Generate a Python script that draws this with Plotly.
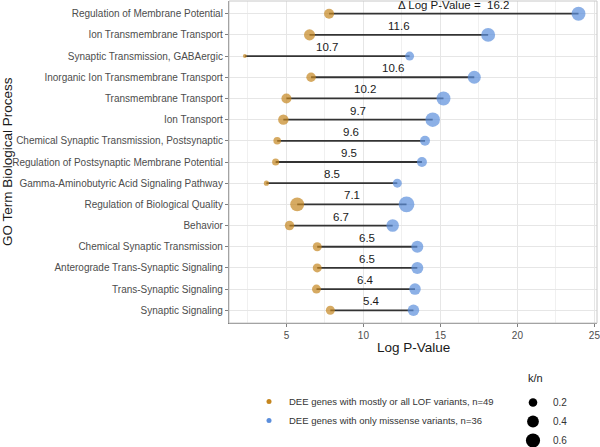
import plotly.graph_objects as go
import numpy as np

terms = [
    "Regulation of Membrane Potential",
    "Ion Transmembrane Transport",
    "Synaptic Transmission, GABAergic",
    "Inorganic Ion Transmembrane Transport",
    "Transmembrane Transport",
    "Ion Transport",
    "Chemical Synaptic Transmission, Postsynaptic",
    "Regulation of Postsynaptic Membrane Potential",
    "Gamma-Aminobutyric Acid Signaling Pathway",
    "Regulation of Biological Quality",
    "Behavior",
    "Chemical Synaptic Transmission",
    "Anterograde Trans-Synaptic Signaling",
    "Trans-Synaptic Signaling",
    "Synaptic Signaling",
]
lof_logp = [7.77, 6.5, 2.3, 6.6, 5.0, 4.8, 4.4, 4.3, 3.7, 5.7, 5.2, 7.0, 7.0, 6.95, 7.85]
mis_logp = [23.97, 18.1, 13.0, 17.2, 15.2, 14.5, 14.0, 13.8, 12.2, 12.8, 11.9, 13.5, 13.5, 13.35, 13.25]
delta = [16.2, 11.6, 10.7, 10.6, 10.2, 9.7, 9.6, 9.5, 8.5, 7.1, 6.7, 6.5, 6.5, 6.4, 5.4]
lof_kn = [0.28, 0.35, 0.03, 0.25, 0.28, 0.31, 0.15, 0.13, 0.06, 0.58, 0.25, 0.22, 0.22, 0.22, 0.22]
mis_kn = [0.58, 0.58, 0.22, 0.50, 0.58, 0.63, 0.28, 0.28, 0.22, 0.75, 0.46, 0.42, 0.42, 0.38, 0.38]
legend_kn = [0.2, 0.4, 0.6]
x_ticks = [5, 10, 15, 20, 25]

LOF_COL = "#C5861F"
MIS_COL = "#5B8EDC"
FONT = "Arial, Liberation Sans, sans-serif"

def size_of(kn):
    return [17 * np.sqrt(k) + 1 for k in kn]

ypos = list(range(len(terms)))

fig = go.Figure()

# segments
sx, sy = [], []
for i in ypos:
    sx += [lof_logp[i], mis_logp[i], None]
    sy += [i, i, None]
fig.add_trace(go.Scatter(x=sx, y=sy, mode="lines", line=dict(color="#333333", width=1.8),
                         showlegend=False, hoverinfo="skip"))

fig.add_trace(go.Scatter(x=lof_logp, y=ypos, mode="markers",
                         marker=dict(color=LOF_COL, size=size_of(lof_kn), line=dict(width=0)),
                         showlegend=False))
fig.add_trace(go.Scatter(x=mis_logp, y=ypos, mode="markers",
                         marker=dict(color=MIS_COL, size=size_of(mis_kn), line=dict(width=0)),
                         showlegend=False))

# legend 1 (dummy entries)
fig.add_trace(go.Scatter(x=[None], y=[None], mode="markers", marker=dict(color=LOF_COL, size=5),
                         name="DEE genes with mostly or all LOF variants, n=49", legend="legend"))
fig.add_trace(go.Scatter(x=[None], y=[None], mode="markers", marker=dict(color=MIS_COL, size=5),
                         name="DEE genes with only missense variants, n=36", legend="legend"))
# legend 2 (size)
for k, s in zip(legend_kn, size_of(legend_kn)):
    fig.add_trace(go.Scatter(x=[None], y=[None], mode="markers", marker=dict(color="black", size=s),
                             name=str(k), legend="legend2"))

# delta labels
for i in ypos:
    txt = ("\u0394 Log P-Value =  %.1f" % delta[i]) if i == 0 else ("%.1f" % delta[i])
    fig.add_annotation(x=(lof_logp[i] + mis_logp[i]) / 2, y=i, text=txt, showarrow=False,
                       yshift=9, font=dict(size=11.5, color="#1a1a1a", family=FONT))

# panel border (top/right light)
fig.add_shape(type="rect", xref="paper", yref="paper", x0=0, x1=1, y0=0, y1=1,
              line=dict(color="#C8C8C8", width=1), layer="above")

W, H = 600, 447
fig.update_layout(
    width=W, height=H,
    margin=dict(l=229, r=3, t=1, b=124, autoexpand=False),
    paper_bgcolor="white", plot_bgcolor="white",
    font=dict(family=FONT, color="#4D4D4D"),
    xaxis=dict(range=[1.27, 25.17], tickvals=x_ticks, showgrid=True, gridcolor="#E6E6E6", gridwidth=1,
               minor=dict(dtick=2.5, tick0=0, showgrid=True, gridcolor="#F0F0F0", gridwidth=0.6),
               zeroline=False, showline=True, linecolor="#7F7F7F", linewidth=1.2,
               ticks="outside", ticklen=3, tickcolor="#7F7F7F", automargin=False,
               ticklabeloverflow="allow",
               tickfont=dict(size=10, color="#4D4D4D")),
    yaxis=dict(range=[14.6, -0.6], tickvals=ypos, ticktext=terms, showgrid=True, gridcolor="#E6E6E6",
               zeroline=False, showline=True, linecolor="#7F7F7F", linewidth=1.2,
               ticks="outside", ticklen=3, tickcolor="#7F7F7F", automargin=False,
               ticklabeloverflow="allow",
               tickfont=dict(size=10, color="#4D4D4D")),
    legend=dict(xref="container", yref="container", x=249 / W, y=1 - 387 / H,
                xanchor="left", yanchor="top", itemsizing="trace",
                font=dict(size=9.5, color="#333333"), bgcolor="rgba(0,0,0,0)",
                tracegroupgap=0, itemwidth=30),
    legend2=dict(xref="container", yref="container", x=513 / W, y=1 - 388 / H,
                 xanchor="left", yanchor="top", itemsizing="trace",
                 font=dict(size=10, color="#333333"), bgcolor="rgba(0,0,0,0)", itemwidth=30),
)

fig.add_annotation(xref="paper", yref="paper", x=0.832, y=-0.171, text="k/n", showarrow=False,
                   xanchor="center", yanchor="middle", font=dict(size=11, color="#1a1a1a", family=FONT))
fig.add_annotation(xref="paper", yref="paper", x=0.5, y=-0.0767, text="Log P-Value", showarrow=False,
                   xanchor="center", yanchor="middle", font=dict(size=13.5, color="#1a1a1a", family=FONT))
fig.add_annotation(xref="paper", yref="paper", x=(7 - 229) / 368, y=0.5, text="GO Term Biological Process",
                   showarrow=False, textangle=-90, xanchor="center", yanchor="middle",
                   font=dict(size=13.5, color="#1a1a1a", family=FONT))

fig.write_html("out.html", config={"displayModeBar": False},
               post_script="document.body.style.margin='0';")
